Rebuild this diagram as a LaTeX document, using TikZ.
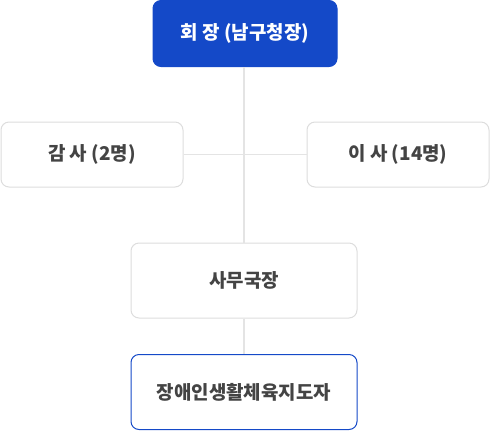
\documentclass[tikz,border=0pt]{standalone}
\usepackage{fontspec}
\newfontfamily\kr{Noto Sans CJK KR}
\usepackage{tikz}
\definecolor{chairblue}{RGB}{20,73,200}
\definecolor{boxgray}{RGB}{221,221,221}
\definecolor{linegray}{RGB}{228,228,228}
\definecolor{textgray}{RGB}{68,68,68}
\tikzset{
  orgbox/.style={draw=boxgray, line width=0.75pt, fill=white, rounded corners=6pt,
    text=textgray, font=\kr\bfseries\fontsize{14.2pt}{17pt}\selectfont, inner sep=0pt},
  chairbox/.style={orgbox, draw=chairblue, fill=chairblue, text=white},
  staffbox/.style={orgbox, draw=chairblue},
  orgline/.style={draw=linegray, line width=1.1pt}
}
\begin{document}
\begin{tikzpicture}[x=0.75pt, y=-0.75pt]
			%%%%% START %%%%%
			\useasboundingbox (0, 0) rectangle (490, 444);
			
			\node[chairbox, minimum width=138pt, minimum height=49.5pt] (chair) at (245, 33.5) {회 장 (남구청장)};
			
			\node[orgbox, minimum width=136.5pt, minimum height=48.75pt] (auditor) at (92, 154.5) {감 사 (2명)};
			\node[orgbox, minimum width=136.5pt, minimum height=48.75pt] (director) at (398, 154.5) {이 사 (14명)};
			
			\node[orgbox, minimum width=169.5pt, minimum height=56.25pt] (secretary) at (244, 280.5) {사무국장};
			\node[staffbox, minimum width=169.5pt, minimum height=56.25pt] (instructor) at (244, 392) {장애인생활체육지도자};
			
			\coordinate (cross) at (244, 154.5);
			\draw[orgline] (chair.south -| cross) -- (secretary.north);
			\draw[orgline] (auditor.east) -- (director.west);
			\draw[orgline] (secretary.south) -- (instructor.north);
			
			%%%%% END %%%%%
		\end{tikzpicture}
\end{document}
